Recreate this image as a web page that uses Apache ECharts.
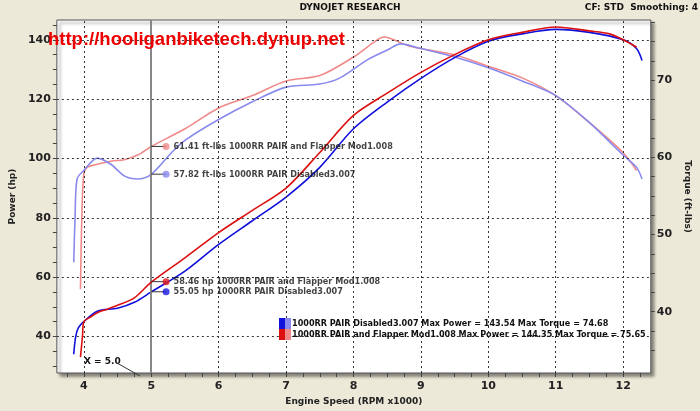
<!DOCTYPE html>
<html>
<head>
<meta charset="utf-8">
<script src="https://cdn.jsdelivr.net/npm/echarts@6/dist/echarts.min.js"></script>
<style>
  html, body { margin: 0; padding: 0; background: #ece9d8; }
  #chart { width: 700px; height: 411px; }
</style>
</head>
<body>
<div id="chart"></div>
<script>
// power runs (hp) vs engine speed (rpm x1000)
const redPower = [[3.95,33],[3.98,40],[4.0,45],[4.1,46.5],[4.2,48],[4.35,49.2],[4.5,50.5],[4.75,53],[5.0,58.3],[5.5,66.5],[6.0,75],[6.5,82.5],[7.0,90],[7.5,102],[8.0,114.5],[8.5,122],[9.0,129],[9.5,135],[10.0,140],[10.5,142.5],[11.0,144.3],[11.5,143],[11.8,142],[12.0,140],[12.2,137.5]];
const bluePower = [[3.85,34],[3.88,40],[3.92,43],[4.0,45],[4.2,48.5],[4.5,49.5],[4.75,51.5],[5.0,55],[5.5,62],[6.0,71],[6.5,79],[7.0,87],[7.5,97],[8.0,110],[8.5,119],[9.0,127],[9.5,134],[10.0,139.5],[10.5,142],[11.0,143.5],[11.5,142.5],[12.0,140],[12.2,137],[12.28,133]];
// torque runs (ft-lbs)
const redTorque = [[3.95,42.9],[3.97,52.2],[4.0,57.9],[4.05,58.7],[4.2,59.1],[4.4,59.5],[4.6,59.7],[4.8,60.3],[5.0,61.4],[5.5,63.7],[6.0,66.4],[6.5,68.0],[7.0,69.9],[7.5,70.6],[8.0,73.0],[8.3,74.9],[8.45,75.6],[8.8,74.5],[9.0,74.1],[9.5,73.3],[10.0,71.8],[10.5,70.3],[11.0,68.0],[11.5,64.5],[12.0,60.6],[12.2,58.3]];
const blueTorque = [[3.85,46.4],[3.87,52.2],[3.9,57.2],[4.0,58.3],[4.2,59.9],[4.4,59.1],[4.6,57.6],[4.8,57.2],[5.0,57.8],[5.3,60.6],[5.5,62.2],[6.0,64.9],[6.5,67.2],[7.0,69.1],[7.5,69.5],[7.8,70.3],[8.2,72.6],[8.5,73.9],[8.7,74.7],[9.0,74.1],[9.5,73.0],[10.0,71.6],[10.5,69.9],[11.0,68.0],[11.5,64.5],[12.0,60.3],[12.2,58.7],[12.28,57.2]];
const xTicks = [4,5,6,7,8,9,10,11,12];
const hpTicks = [40,60,80,100,120,140];
const tqTicks = [40,50,60,70];
const cursorX = 5.0;
const markerX = 5.22;
const labels = [
  {axis: 1, v: 61.41, color: '#f08a8a', text: '61.41 ft-lbs 1000RR PAIR and Flapper Mod1.008'},
  {axis: 1, v: 57.82, color: '#8a8aee', text: '57.82 ft-lbs 1000RR PAIR Disabled3.007'},
  {axis: 0, v: 58.46, color: '#e01818', text: '58.46 hp 1000RR PAIR and Flapper Mod1.008'},
  {axis: 0, v: 55.05, color: '#1818e0', text: '55.05 hp 1000RR PAIR Disabled3.007'}
];

const font = 'Verdana, "DejaVu Sans", sans-serif';
const small = '"DejaVu Sans Condensed", "DejaVu Sans", sans-serif';
const chart = echarts.init(document.getElementById('chart'));

const lineSeries = (name, data, color, axis, z) => ({
  name, type: 'line', data, yAxisIndex: axis, showSymbol: false, smooth: 0.3,
  lineStyle: {color, width: 1.6}, z, silent: true
});

const series = [
  lineSeries('redTq', redTorque, '#f08a8a', 1, 3),
  lineSeries('blueTq', blueTorque, '#8a8aee', 1, 3),
  lineSeries('bluePw', bluePower, '#1010dd', 0, 4),
  lineSeries('redPw', redPower, '#dd1010', 0, 5),
  // grid lines
  {
    type: 'line', data: [], yAxisIndex: 0, silent: true,
    markLine: {
      symbol: 'none', silent: true, label: {show: false},
      lineStyle: {color: '#333', type: [2, 3], width: 1},
      data: hpTicks.map(v => ({yAxis: v})).concat(xTicks.filter(v => v !== cursorX).map(v => ({xAxis: v})))
    }
  },
  {
    type: 'line', data: [], yAxisIndex: 0, silent: true,
    markLine: {
      symbol: 'none', silent: true, label: {show: false},
      lineStyle: {color: '#888', type: 'solid', width: 2},
      data: [{xAxis: cursorX}]
    }
  }
];

labels.forEach(l => {
  series.push({
    type: 'line', yAxisIndex: l.axis, data: [[cursorX, l.v], [markerX, l.v]],
    symbol: 'none', lineStyle: {color: '#333', width: 1}, z: 6, silent: true
  });
  series.push({
    type: 'scatter', yAxisIndex: l.axis, data: [[markerX, l.v]], symbolSize: 7,
    itemStyle: {color: l.color}, z: 7, silent: true,
    label: {show: true, position: 'right', distance: 4, formatter: l.text,
      color: '#111', fontFamily: small, fontSize: 9, fontWeight: 'bold'}
  });
});

chart.setOption({
  animation: false,
  backgroundColor: '#ece9d8',
  grid: {left: 42, right: 33, top: 20, bottom: 34, show: true, backgroundColor: '#fff',
    borderColor: '#555', borderWidth: 1, shadowColor: 'rgba(0,0,0,0.45)', shadowBlur: 3, shadowOffsetX: 3, shadowOffsetY: 3},
  xAxis: {
    type: 'value', min: 3.6, max: 12.41,
    axisLine: {show: false},
    axisTick: {show: true, customValues: [3.75,4,4.25,4.5,4.75,5,5.25,5.5,5.75,6,6.25,6.5,6.75,7,7.25,7.5,7.75,8,8.25,8.5,8.75,9,9.25,9.5,9.75,10,10.25,10.5,10.75,11,11.25,11.5,11.75,12,12.25], length: 4, lineStyle: {color: '#444'}},
    axisLabel: {customValues: xTicks, color: '#222', fontFamily: font, fontSize: 11, fontWeight: 'bold', margin: 8},
    splitLine: {show: false},
    name: 'Engine Speed (RPM x1000)', nameLocation: 'middle', nameGap: 24,
    nameTextStyle: {color: '#222', fontFamily: font, fontSize: 9, fontWeight: 'bold'}
  },
  yAxis: [{
    type: 'value', min: 27.67, max: 146.67, position: 'left',
    axisLine: {show: false},
    axisTick: {show: true, customValues: [30,35,40,45,50,55,60,65,70,75,80,85,90,95,100,105,110,115,120,125,130,135,140,145], length: 4, lineStyle: {color: '#444'}},
    axisLabel: {customValues: hpTicks, color: '#222', fontFamily: font, fontSize: 11, fontWeight: 'bold', margin: 6},
    splitLine: {show: false},
    name: 'Power (hp)', nameLocation: 'middle', nameGap: 30, nameRotate: 90,
    nameTextStyle: {color: '#222', fontFamily: font, fontSize: 9, fontWeight: 'bold'}
  }, {
    type: 'value', min: 32.05, max: 77.8, position: 'right',
    axisLine: {show: false},
    axisTick: {show: true, customValues: [35,37.5,40,42.5,45,47.5,50,52.5,55,57.5,60,62.5,65,67.5,70,72.5,75,77.5], length: 4, lineStyle: {color: '#444'}},
    axisLabel: {customValues: tqTicks, color: '#222', fontFamily: font, fontSize: 11, fontWeight: 'bold', margin: 6},
    splitLine: {show: false},
    name: 'Torque (ft-lbs)', nameLocation: 'middle', nameGap: 20, nameRotate: -90,
    nameTextStyle: {color: '#222', fontFamily: font, fontSize: 9, fontWeight: 'bold'}
  }],
  graphic: [
    {type: 'text', left: 'center', top: 3, style: {text: 'DYNOJET RESEARCH', fill: '#111', font: 'bold 9px ' + font}},
    {type: 'text', right: 2, top: 3, style: {text: 'CF: STD  Smoothing: 4', fill: '#111', font: 'bold 9px ' + font}},
    {type: 'text', left: 48, top: 30, z: 20, style: {text: 'http://hooliganbiketech.dynup.net', fill: '#ee0000', font: 'bold 18.5px Arial, "Liberation Sans", sans-serif'}},
    {type: 'text', left: 84, top: 357, z: 20, style: {text: 'X = 5.0', fill: '#111', font: 'bold 9px ' + font}},
    {type: 'line', z: 20, shape: {x1: 117, y1: 363, x2: 140, y2: 376}, style: {stroke: '#333', lineWidth: 1}},
    {type: 'rect', left: 279, top: 318, z: 20, shape: {width: 6, height: 11}, style: {fill: '#1010dd'}},
    {type: 'rect', left: 285, top: 318, z: 20, shape: {width: 6, height: 11}, style: {fill: '#8a8aee'}},
    {type: 'rect', left: 279, top: 329, z: 20, shape: {width: 6, height: 11}, style: {fill: '#dd1010'}},
    {type: 'rect', left: 285, top: 329, z: 20, shape: {width: 6, height: 11}, style: {fill: '#f08a8a'}},
    {type: 'text', left: 292, top: 319, z: 20, style: {text: '1000RR PAIR Disabled3.007 Max Power = 143.54 Max Torque = 74.68', fill: '#111', font: 'bold 9px ' + small}},
    {type: 'text', left: 292, top: 330, z: 20, style: {text: '1000RR PAIR and Flapper Mod1.008 Max Power = 144.35 Max Torque = 75.65', fill: '#111', font: 'bold 9px ' + small}}
  ],
  series
});
</script>
</body>
</html>
